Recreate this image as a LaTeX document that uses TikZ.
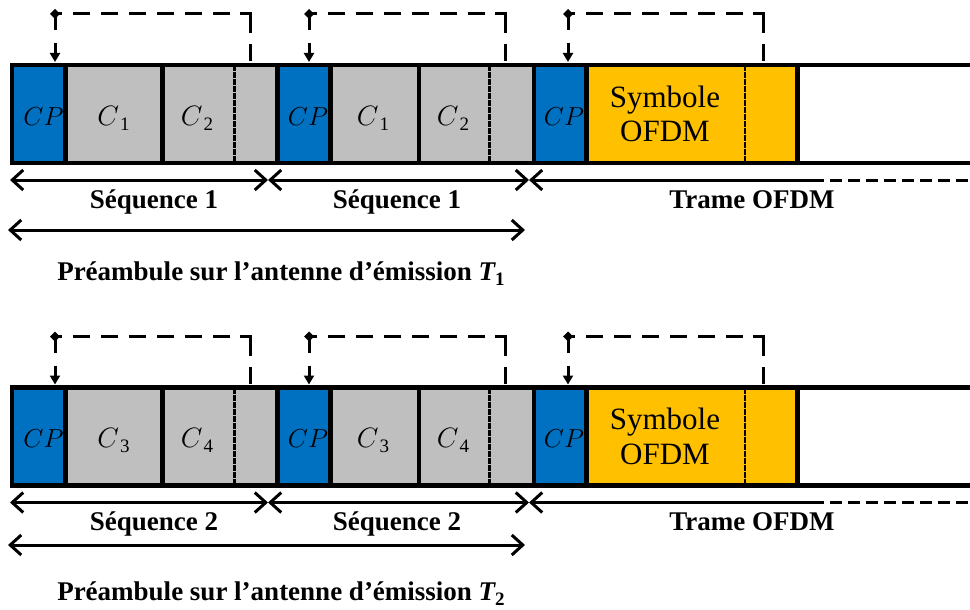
\RequirePackage{fix-cm}
\documentclass[tikz,border=0pt]{standalone}
\usepackage{fontspec}
\setmainfont{Liberation Serif}
\usetikzlibrary{arrows.meta}
\definecolor{cpblue}{HTML}{0070C0}
\definecolor{cgray}{HTML}{BFBFBF}
\definecolor{cyellow}{HTML}{FFC000}
\tikzset{
  cell/.style={inner sep=0pt, outer sep=0pt, minimum height=98pt, anchor=north west, draw=none},
  framel/.style={line width=4.5pt, line join=miter},
  sepl/.style={line width=4.5pt},
  thinsep/.style={line width=2.2pt, dash pattern=on 6pt off 1pt},
  mlab/.style={anchor=base, inner sep=0pt, font=\fontsize{26}{26}\selectfont},
  clab/.style={anchor=base, inner sep=0pt, font=\fontsize{28}{28}\selectfont},
  blab/.style={anchor=base, inner sep=0pt, font=\fontsize{27}{27}\selectfont\bfseries},
  slab/.style={anchor=base, inner sep=0pt, font=\fontsize{31}{31}\selectfont},
  brk/.style={line width=3pt, dash pattern=on 17pt off 11pt on 29pt off 10pt on 17pt off 11pt on 17pt off 11pt on 17pt off 11pt on 17pt off 11pt on 17pt off 11pt on 17pt off 11pt on 30pt off 50pt},
  brkstub/.style={line width=3pt},
  brkarrow/.style={line width=3pt, -{Triangle[length=9pt,width=10pt]}},
  seqarr/.style={line width=3pt, {Straight Barb[length=11pt,width=20pt]}-{Straight Barb[length=11pt,width=20pt]}},
  lseqarr/.style={line width=3pt, {Straight Barb[length=11pt,width=20pt]}-},
  dashline/.style={line width=3pt, dash pattern=on 12pt off 6pt},
}
\newcommand\csub[1]{$C$\kern1pt\raisebox{-5pt}{\fontsize{19}{19}\selectfont #1}}
\newcommand\ofdmbracket[3]{%
  \coordinate (#1r) at (#3,61);
  \coordinate (#1t) at (#2,14);
  \coordinate (#1e) at (#2,62);
  \draw[brk] (#1r) |- (#1t);
  \draw[brkstub] (#1t) -- ([yshift=-16pt]#1t);
  \draw[brkarrow] ([yshift=-29pt]#1t) -- (#1e);
  \fill (#1t) ++(-5,0) -- ++(5,-5) -- ++(5,5) -- ++(-5,5) -- cycle;
}
\newcommand\ofdmrow[7]{%
\begin{scope}[yshift=-#2pt]
  % cells
  \node[cell, fill=cpblue,  minimum width=53.5pt] (#1cpa) at (12,65) {};
  \node[cell, fill=cgray,   minimum width=97pt]   (#1ca)  at (65.5,65) {};
  \node[cell, fill=cgray,   minimum width=72pt]   (#1cb)  at (162.5,65) {};
  \node[cell, fill=cgray,   minimum width=43pt]   (#1ga)  at (234.5,65) {};
  \node[cell, fill=cpblue,  minimum width=53pt]   (#1cpb) at (277.5,65) {};
  \node[cell, fill=cgray,   minimum width=88.5pt] (#1cc)  at (330.5,65) {};
  \node[cell, fill=cgray,   minimum width=70.5pt] (#1cd)  at (419,65) {};
  \node[cell, fill=cgray,   minimum width=44.5pt] (#1gb)  at (489.5,65) {};
  \node[cell, fill=cpblue,  minimum width=52.5pt] (#1cpc) at (534,65) {};
  \node[cell, fill=cyellow, minimum width=158.5pt](#1sym) at (586.5,65) {};
  \node[cell, fill=cyellow, minimum width=52.5pt] (#1yb)  at (745,65) {};
  \node[cell, fill=white,   minimum width=180pt]  (#1rest) at (797.5,65) {};
  % frame
  \draw[framel] (#1rest.north east) -- (#1cpa.north west) -- (#1cpa.south west) -- (#1rest.south east);
  \foreach \c in {cpa,ca,ga,cpb,cc,gb,cpc,yb}{
    \draw[sepl] (#1\c.north east) -- (#1\c.south east);
  }
  \foreach \c in {cb,cd,sym}{
    \draw[thinsep] (#1\c.north east) -- (#1\c.south east);
  }
  % labels in cells
  \node[mlab] (#1lcpa) at (43.5,125) {$CP$};
  \node[clab] (#1lca)  at (113.5,125) {\csub{#3}};
  \node[clab] (#1lcb)  at (197,125) {\csub{#4}};
  \node[mlab] (#1lcpb) at (308,125) {$CP$};
  \node[clab] (#1lcc)  at (373,125) {\csub{#3}};
  \node[clab] (#1lcd)  at (453,125) {\csub{#4}};
  \node[mlab] (#1lcpc) at (564,125) {$CP$};
  \node[slab] (#1lsa)  at (665,107) {Symbole};
  \node[slab] (#1lsb)  at (665,142) {OFDM};
  % brackets
  \ofdmbracket{#1ka}{55}{250}
  \ofdmbracket{#1kb}{309}{505}
  \ofdmbracket{#1kc}{568}{763}
  % span arrows
  \coordinate (#1s0) at (10,180);
  \coordinate (#1s1) at (268,180);
  \coordinate (#1s2) at (529,180);
  \coordinate (#1s3) at (812,180);
  \coordinate (#1s4) at (975,180);
  \draw[seqarr] (#1s0) -- (#1s1);
  \draw[seqarr] (#1s1) -- (#1s2);
  \draw[lseqarr] (#1s2) -- (#1s3);
  \draw[dashline] (#1s3) -- (#1s4);
  \node[blab] (#1qa) at (154,208) {Séquence #5};
  \node[blab] (#1qb) at (397,208) {Séquence #5};
  \node[blab] (#1qc) at (752,208) {Trame OFDM};
  \coordinate (#1p0) at (8,#6);
  \coordinate (#1p1) at (525,#6);
  \draw[seqarr] (#1p0) -- (#1p1);
  \node[blab] (#1pt) at (281,#7) {Préambule sur l’antenne d’émission {\itshape T}\raisebox{-5pt}{\fontsize{19}{19}\selectfont #5}};
\end{scope}}
\begin{document}
\begin{tikzpicture}[x=1pt,y=-1pt]
  \path[use as bounding box] (0,0) rectangle (970,610);
  \ofdmrow{a}{0}{1}{2}{1}{230}{280}
  \ofdmrow{b}{322.5}{3}{4}{2}{222.5}{277.5}
\end{tikzpicture}
\end{document}
